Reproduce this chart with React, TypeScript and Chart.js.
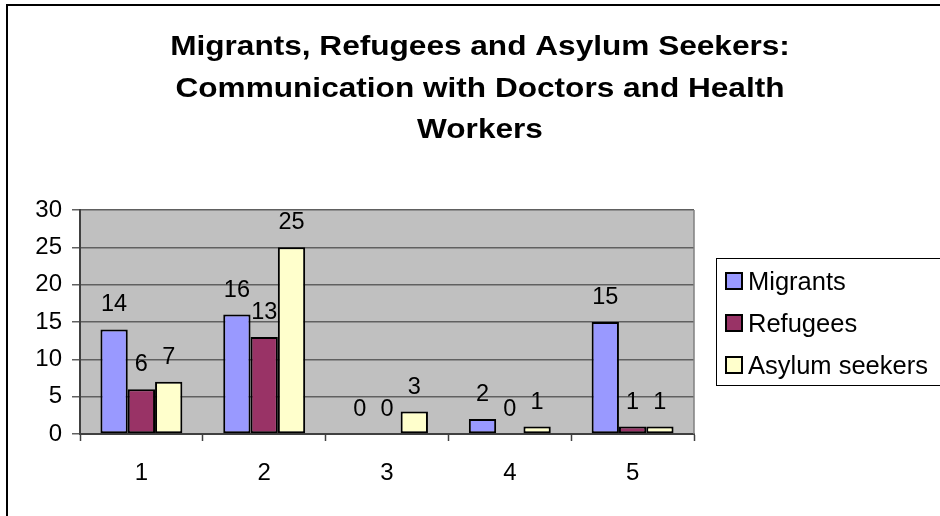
import React, { useEffect, useRef } from "react";
import { Chart, registerables } from "chart.js";

Chart.register(...registerables);

const CATEGORIES = ["1", "2", "3", "4", "5"];
const MIGRANTS = [14, 16, 0, 2, 15];
const REFUGEES = [6, 13, 0, 0, 1];
const ASYLUM_SEEKERS = [7, 25, 3, 1, 1];
const SERIES_NAMES = ["Migrants", "Refugees", "Asylum seekers"];
const SERIES_COLORS = ["#9999FF", "#993366", "#FFFFCC"];
const TITLE_LINES = [
  "Migrants, Refugees and Asylum Seekers:",
  "Communication with Doctors and Health",
  "Workers",
];
const Y_MIN = 0;
const Y_MAX = 30;
const Y_STEP = 5;

const FONT = '"Liberation Sans", Arial, Helvetica, sans-serif';

const framePlugin = {
  id: "frame",
  beforeDraw(chart: any) {
    const { ctx, chartArea, width, height } = chart;
    ctx.save();
    ctx.fillStyle = "#ffffff";
    ctx.fillRect(0, 0, width, height);
    ctx.strokeStyle = "#000000";
    ctx.lineWidth = 2;
    ctx.strokeRect(7, 5, width + 40, height + 40);
    ctx.fillStyle = "#C0C0C0";
    ctx.fillRect(chartArea.left, chartArea.top, chartArea.right - chartArea.left, chartArea.bottom - chartArea.top);
    ctx.restore();
  },
  beforeDatasetsDraw(chart: any) {
    const { ctx, chartArea } = chart;
    ctx.save();
    ctx.strokeStyle = "#808080";
    ctx.lineWidth = 1.5;
    ctx.beginPath();
    ctx.moveTo(chartArea.right, chartArea.top);
    ctx.lineTo(chartArea.right, chartArea.bottom);
    ctx.stroke();
    ctx.restore();
  },
};

const valueLabelPlugin = {
  id: "valueLabels",
  afterDatasetsDraw(chart: any) {
    const { ctx } = chart;
    ctx.save();
    ctx.font = `23.5px ${FONT}`;
    ctx.fillStyle = "#000000";
    ctx.textAlign = "center";
    ctx.textBaseline = "alphabetic";
    chart.data.datasets.forEach((ds: any, di: number) => {
      const meta = chart.getDatasetMeta(di);
      meta.data.forEach((el: any, i: number) => {
        ctx.fillText(String(ds.data[i]), el.x, el.y - 18);
      });
    });
    ctx.restore();
  },
};

const titleLegendPlugin = {
  id: "titleLegend",
  afterDraw(chart: any) {
    const { ctx } = chart;
    ctx.save();
    // title (slightly widened, as in the original rendering)
    ctx.font = `bold 27px ${FONT}`;
    ctx.fillStyle = "#000000";
    ctx.textAlign = "center";
    ctx.textBaseline = "alphabetic";
    TITLE_LINES.forEach((line, i) => {
      ctx.save();
      ctx.translate(480, 55 + i * 41.5);
      ctx.scale(1.17, 1);
      ctx.fillText(line, 0, 0);
      ctx.restore();
    });
    // legend box
    ctx.strokeStyle = "#000000";
    ctx.lineWidth = 1;
    ctx.strokeRect(716.5, 258.5, 260, 127);
    ctx.font = `25.5px ${FONT}`;
    ctx.textAlign = "left";
    chart.data.datasets.forEach((ds: any, i: number) => {
      const cy = 281 + i * 42;
      ctx.fillStyle = ds.backgroundColor;
      ctx.fillRect(726, cy - 8, 16, 16);
      ctx.strokeStyle = "#000000";
      ctx.lineWidth = 2;
      ctx.strokeRect(726, cy - 8, 16, 16);
      ctx.fillStyle = "#000000";
      ctx.fillText(ds.label, 748, cy + 9);
    });
    ctx.restore();
  },
};

export default function App() {
  const ref = useRef<HTMLCanvasElement | null>(null);

  useEffect(() => {
    if (!ref.current) return;
    const values = [MIGRANTS, REFUGEES, ASYLUM_SEEKERS];
    const chart = new Chart(ref.current, {
      type: "bar",
      data: {
        labels: CATEGORIES,
        datasets: SERIES_NAMES.map((name, i) => ({
          label: name,
          data: values[i],
          backgroundColor: SERIES_COLORS[i],
          borderColor: "#000000",
          borderWidth: 2,
          borderSkipped: false,
          categoryPercentage: 0.667,
          barPercentage: 1,
        })),
      },
      options: {
        responsive: false,
        animation: false,
        devicePixelRatio: 1,
        layout: { padding: { left: 20, right: 246, top: 210, bottom: 0 } },
        plugins: {
          legend: { display: false },
          title: { display: false },
          tooltip: { enabled: false },
        },
        scales: {
          x: {
            grid: {
              display: true,
              drawOnChartArea: false,
              drawTicks: true,
              tickLength: 7,
              tickColor: "#404040",
              tickWidth: 1.5,
              offset: true,
            },
            border: { display: true, color: "#404040", width: 2 },
            ticks: {
              color: "#000000",
              font: { family: FONT, size: 24 },
              padding: 18,
            },
            afterFit: (s: any) => {
              s.height = 82;
            },
          },
          y: {
            min: Y_MIN,
            max: Y_MAX,
            ticks: {
              stepSize: Y_STEP,
              color: "#000000",
              font: { family: FONT, size: 24 },
              padding: 10,
            },
            grid: {
              color: "#606060",
              lineWidth: 1.5,
              tickLength: 8,
              tickColor: "#606060",
            },
            border: { display: true, color: "#404040", width: 2 },
            afterFit: (s: any) => {
              s.width = 60;
            },
          },
        },
      },
      plugins: [framePlugin, valueLabelPlugin, titleLegendPlugin],
    });
    return () => chart.destroy();
  }, []);

  return (
    <div style={{ position: "fixed", left: 0, top: 0, width: 940, height: 516, background: "#fff" }}>
      <canvas ref={ref} width={940} height={516} />
    </div>
  );
}
